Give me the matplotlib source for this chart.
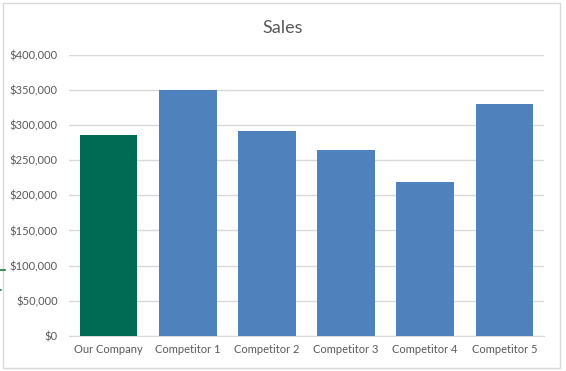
import matplotlib.pyplot as plt
from matplotlib.ticker import FuncFormatter
from matplotlib.patches import Rectangle
from matplotlib.lines import Line2D

categories = ["Our Company", "Competitor 1", "Competitor 2", "Competitor 3", "Competitor 4", "Competitor 5"]
sales = [285000, 349000, 292000, 265000, 219000, 330000]
colors = ["#006B54", "#4F81BD", "#4F81BD", "#4F81BD", "#4F81BD", "#4F81BD"]

plt.rcParams['font.family'] = ['Lato', 'DejaVu Sans']

fig = plt.figure(figsize=(5.66, 3.71), dpi=100)
ax = fig.add_axes([0.1219, 0.0943, 0.8392, 0.7587])

x = range(len(categories))
ax.bar(x, sales, width=0.73, color=colors, zorder=3)

ax.set_xlim(-0.5, len(categories) - 0.5)
ax.set_ylim(0, 400000)
ax.set_yticks(range(0, 400001, 50000))
ax.yaxis.set_major_formatter(FuncFormatter(lambda v, p: "${:,.0f}".format(v)))
ax.set_xticks(list(x))
ax.set_xticklabels(categories)
ax.grid(axis='y', color='#D9D9D9', lw=1, zorder=0)
ax.tick_params(length=0, labelsize=8, colors='#595959', pad=8)
ax.tick_params(axis='x', pad=6)
for s in ['top', 'right', 'left']:
    ax.spines[s].set_visible(False)
ax.spines['bottom'].set_color('#D9D9D9')

fig.text(0.5, 0.925, "Sales", ha='center', va='center', fontsize=13, color='#595959')

# chart border
fig.add_artist(Rectangle((0.006, 0.008), 0.984, 0.984, transform=fig.transFigure,
                         fill=False, edgecolor='#D9D9D9', lw=1))
# selection marks on left edge
fig.add_artist(Line2D([0, 0.008], [0.272, 0.272], color='#217346', lw=1.2))
fig.add_artist(Line2D([0, 0.006], [0.218, 0.218], color='#217346', lw=1.2, ls=':'))

fig.savefig("out.png", dpi=100)
